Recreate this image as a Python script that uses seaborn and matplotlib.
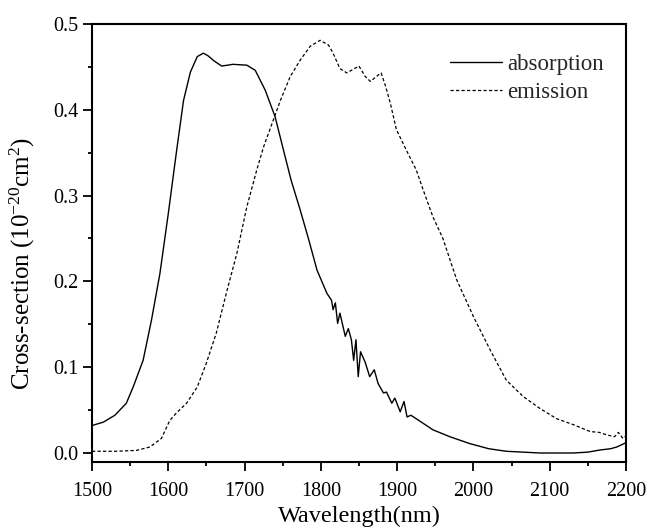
import numpy as np
import pandas as pd
import matplotlib
matplotlib.use("Agg")
import matplotlib.pyplot as plt
import seaborn as sns
from matplotlib.lines import Line2D

abs_wl = [1500, 1515, 1530, 1545, 1554, 1567, 1578, 1589, 1600, 1611, 1620, 1629, 1638,
          1646, 1652, 1660, 1670, 1685, 1703, 1714, 1727, 1740, 1751, 1761, 1773, 1784,
          1795, 1808, 1814, 1816, 1819, 1822, 1825, 1832, 1836, 1840, 1843, 1846, 1849,
          1852, 1858, 1864, 1870, 1875, 1882, 1886, 1893, 1897, 1904, 1909, 1913, 1918,
          1930, 1947, 1969, 1995, 2020, 2043, 2065, 2087, 2110, 2131, 2150, 2166, 2180,
          2188, 2200]
abs_val = [0.032, 0.036, 0.044, 0.058, 0.077, 0.108, 0.155, 0.209, 0.279, 0.353, 0.411,
           0.444, 0.462, 0.466, 0.463, 0.457, 0.451, 0.453, 0.452, 0.446, 0.423, 0.392,
           0.353, 0.318, 0.283, 0.249, 0.213, 0.186, 0.178, 0.167, 0.175, 0.151, 0.163,
           0.136, 0.145, 0.132, 0.108, 0.132, 0.089, 0.118, 0.106, 0.089, 0.097, 0.081,
           0.070, 0.071, 0.058, 0.064, 0.048, 0.060, 0.042, 0.044, 0.037, 0.027, 0.019,
           0.011, 0.005, 0.002, 0.001, 0.000, 0.000, 0.000, 0.001, 0.0035, 0.005, 0.007,
           0.012]

emi_wl = [1500, 1530, 1558, 1576, 1591, 1602, 1611, 1624, 1638, 1650, 1663, 1676, 1690,
          1703, 1716, 1725, 1736, 1747, 1760, 1773, 1786, 1799, 1810, 1816, 1825, 1834,
          1842, 1850, 1858, 1865, 1873, 1879, 1885, 1891, 1899, 1912, 1925, 1934, 1947,
          1960, 1978, 2000, 2022, 2043, 2065, 2087, 2109, 2131, 2153, 2165, 2175, 2185,
          2190, 2196, 2200]
emi_val = [0.002, 0.002, 0.003, 0.007, 0.017, 0.038, 0.047, 0.058, 0.077, 0.105, 0.140,
           0.186, 0.233, 0.287, 0.330, 0.357, 0.384, 0.411, 0.439, 0.458, 0.474, 0.481,
           0.4755, 0.466, 0.448, 0.443, 0.447, 0.451, 0.439, 0.433, 0.439, 0.443, 0.427,
           0.408, 0.377, 0.353, 0.330, 0.307, 0.275, 0.250, 0.202, 0.159, 0.120, 0.085,
           0.066, 0.052, 0.040, 0.033, 0.025, 0.024, 0.021, 0.019, 0.024, 0.017, 0.020]

series_names = ["absorption", "emission"]
x_ticks = [1500, 1600, 1700, 1800, 1900, 2000, 2100, 2200]
y_ticks = [0.0, 0.1, 0.2, 0.3, 0.4, 0.5]

sns.set_theme(style="ticks")
plt.rcParams["font.family"] = ["Liberation Serif", "DejaVu Serif"]
plt.rcParams["mathtext.fontset"] = "custom"
plt.rcParams["mathtext.rm"] = "Liberation Serif"
plt.rcParams["mathtext.it"] = "Liberation Serif:italic"
plt.rcParams["mathtext.bf"] = "Liberation Serif:bold"

fig = plt.figure(figsize=(6.49, 5.28), dpi=100)
ax = fig.add_axes([92 / 649, 1 - 462 / 528, (626 - 92) / 649, (462 - 24) / 528])

dash = (0, (2.6, 1.8))
sns.lineplot(x=abs_wl, y=abs_val, ax=ax, color="black", linewidth=1.0, sort=False,
             estimator=None)
sns.lineplot(x=emi_wl, y=emi_val, ax=ax, color="black", linewidth=0.9, sort=False,
             estimator=None, linestyle=dash)

ax.set_xlim(1500, 2200)
ax.set_ylim(-0.0105, 0.5)
ax.set_xticks(x_ticks)
ax.set_yticks(y_ticks)
ax.set_xticklabels([str(v) for v in x_ticks])
ax.set_yticklabels([f"{v:.1f}" for v in y_ticks])
ax.set_xticks(np.arange(1550, 2200, 100), minor=True)
ax.set_yticks(np.arange(0.05, 0.5, 0.1), minor=True)
ax.tick_params(axis="both", which="major", direction="out", length=6.5, width=1.3,
               labelsize=14.5, color="black", labelcolor="black")
ax.tick_params(axis="x", which="major", pad=8)
ax.tick_params(axis="y", which="major", pad=3.5)
ax.tick_params(axis="both", which="minor", direction="out", length=3.2, width=1.3,
               color="black")
for sp in ax.spines.values():
    sp.set_linewidth(1.5)
    sp.set_color("black")
    sp.set_visible(True)

ax.set_xlabel("Wavelength(nm)", fontsize=17.5, color="black", labelpad=3.5)
ax.set_ylabel(r"Cross-section (10$^{\mathrm{-20}}$cm$^{\mathrm{2}}$)", fontsize=18,
              color="black")
ax.yaxis.set_label_coords(-0.103, 0.454)

handles = [Line2D([], [], color="black", linewidth=1.0),
           Line2D([], [], color="black", linewidth=0.9, linestyle=dash)]
ax.legend(handles, series_names, loc="upper left", frameon=False, fontsize=16.5,
          handlelength=2.27, handletextpad=0.22, labelspacing=0.31,
          bbox_to_anchor=(0.670, 0.932), borderaxespad=0, borderpad=0)

fig.savefig("out.png", dpi=100, facecolor="white")
